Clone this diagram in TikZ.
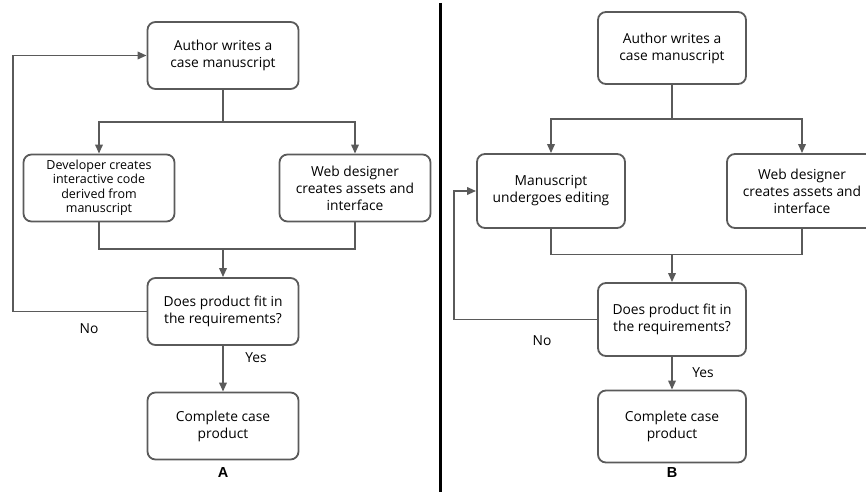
\documentclass[tikz,border=0pt]{standalone}
\usepackage{fontspec}
\setmainfont{Open Sans}
\newfontfamily\labfont{Liberation Sans}
\usetikzlibrary{arrows.meta}
\definecolor{linegray}{HTML}{5A5A5A}
\tikzset{
  box/.style={draw=linegray, line width=1.8pt, rounded corners=8pt, align=center,
    minimum width=151pt, minimum height=67pt, inner sep=2pt,
    font=\fontsize{13.8}{17}\selectfont},
  link/.style={draw=linegray, line width=1.8pt},
  arr/.style={link, -{Triangle[length=9pt,width=7.5pt]}},
  txt/.style={font=\fontsize{13.8}{17}\selectfont},
  tag/.style={font=\labfont\bfseries\fontsize{14.5}{16}\selectfont}
}

\begin{document}
\begin{tikzpicture}[x=1pt,y=-1pt]
    \useasboundingbox (0,0) rectangle (866,492);
    % panel A
    \node[box] (auth1) at (223,55.5) {Author writes a\\case manuscript};
    \node[box, font=\fontsize{12.5}{14.5}\selectfont] (dev) at (99,188) {Developer creates\\interactive code\\derived from\\manuscript};
    \node[box] (web1) at (355,188) {Web designer\\creates assets and\\interface};
    \node[box] (chk1) at (223,311.5) {Does product fit in\\the requirements?};
    \node[box] (done1) at (223,426) {Complete case\\product};
    \coordinate (s1) at (223,122);
    \coordinate (m1) at (223,249);
    \coordinate (f1) at (13,311.5);
    \draw[link] (auth1) -- (s1);
    \foreach \n in {dev,web1}{
    \draw[arr] (s1) -| (\n);
    \draw[link] (\n) |- (m1);
    }
    \draw[arr] (m1) -- (chk1);
    \draw[arr] (chk1.west) -- (f1) |- (auth1.west);
    \draw[arr] (chk1) -- (done1);
    \node[txt] (no1) at (89,329) {No};
    \node[txt] (yes1) at (256,358) {Yes};
    \node[tag] (lA) at (223,473) {A};
    % divider
    \coordinate (d1) at (440.5,3);
    \coordinate (d2) at (440.5,492);
    \draw[line width=2.2pt] (d1) -- (d2);
    % panel B
    \node[box, minimum width=148pt, minimum height=72pt] (auth2) at (672,48) {Author writes a\\case manuscript};
    \node[box, minimum width=148pt, minimum height=74pt] (edit) at (551,191) {Manuscript\\undergoes editing};
    \node[box, minimum width=150pt, minimum height=74pt] (web2) at (802,191) {Web designer\\creates assets and\\interface};
    \node[box, minimum width=148pt, minimum height=73pt] (chk2) at (672,319.5) {Does product fit in\\the requirements?};
    \node[box, minimum width=148pt, minimum height=72pt] (done2) at (672,426.5) {Complete case\\product};
    \coordinate (s2) at (672,119);
    \coordinate (m2) at (672,254.5);
    \coordinate (f2) at (454,319.5);
    \draw[link] (auth2) -- (s2);
    \foreach \n in {edit,web2}{
    \draw[arr] (s2) -| (\n);
    \draw[link] (\n) |- (m2);
    }
    \draw[arr] (m2) -- (chk2);
    \draw[arr] (chk2.west) -- (f2) |- (edit.west);
    \draw[arr] (chk2) -- (done2);
    \node[txt] (no2) at (542,341) {No};
    \node[txt] (yes2) at (703,373) {Yes};
    \node[tag] (lB) at (672,473) {B};
  \end{tikzpicture}
\end{document}
